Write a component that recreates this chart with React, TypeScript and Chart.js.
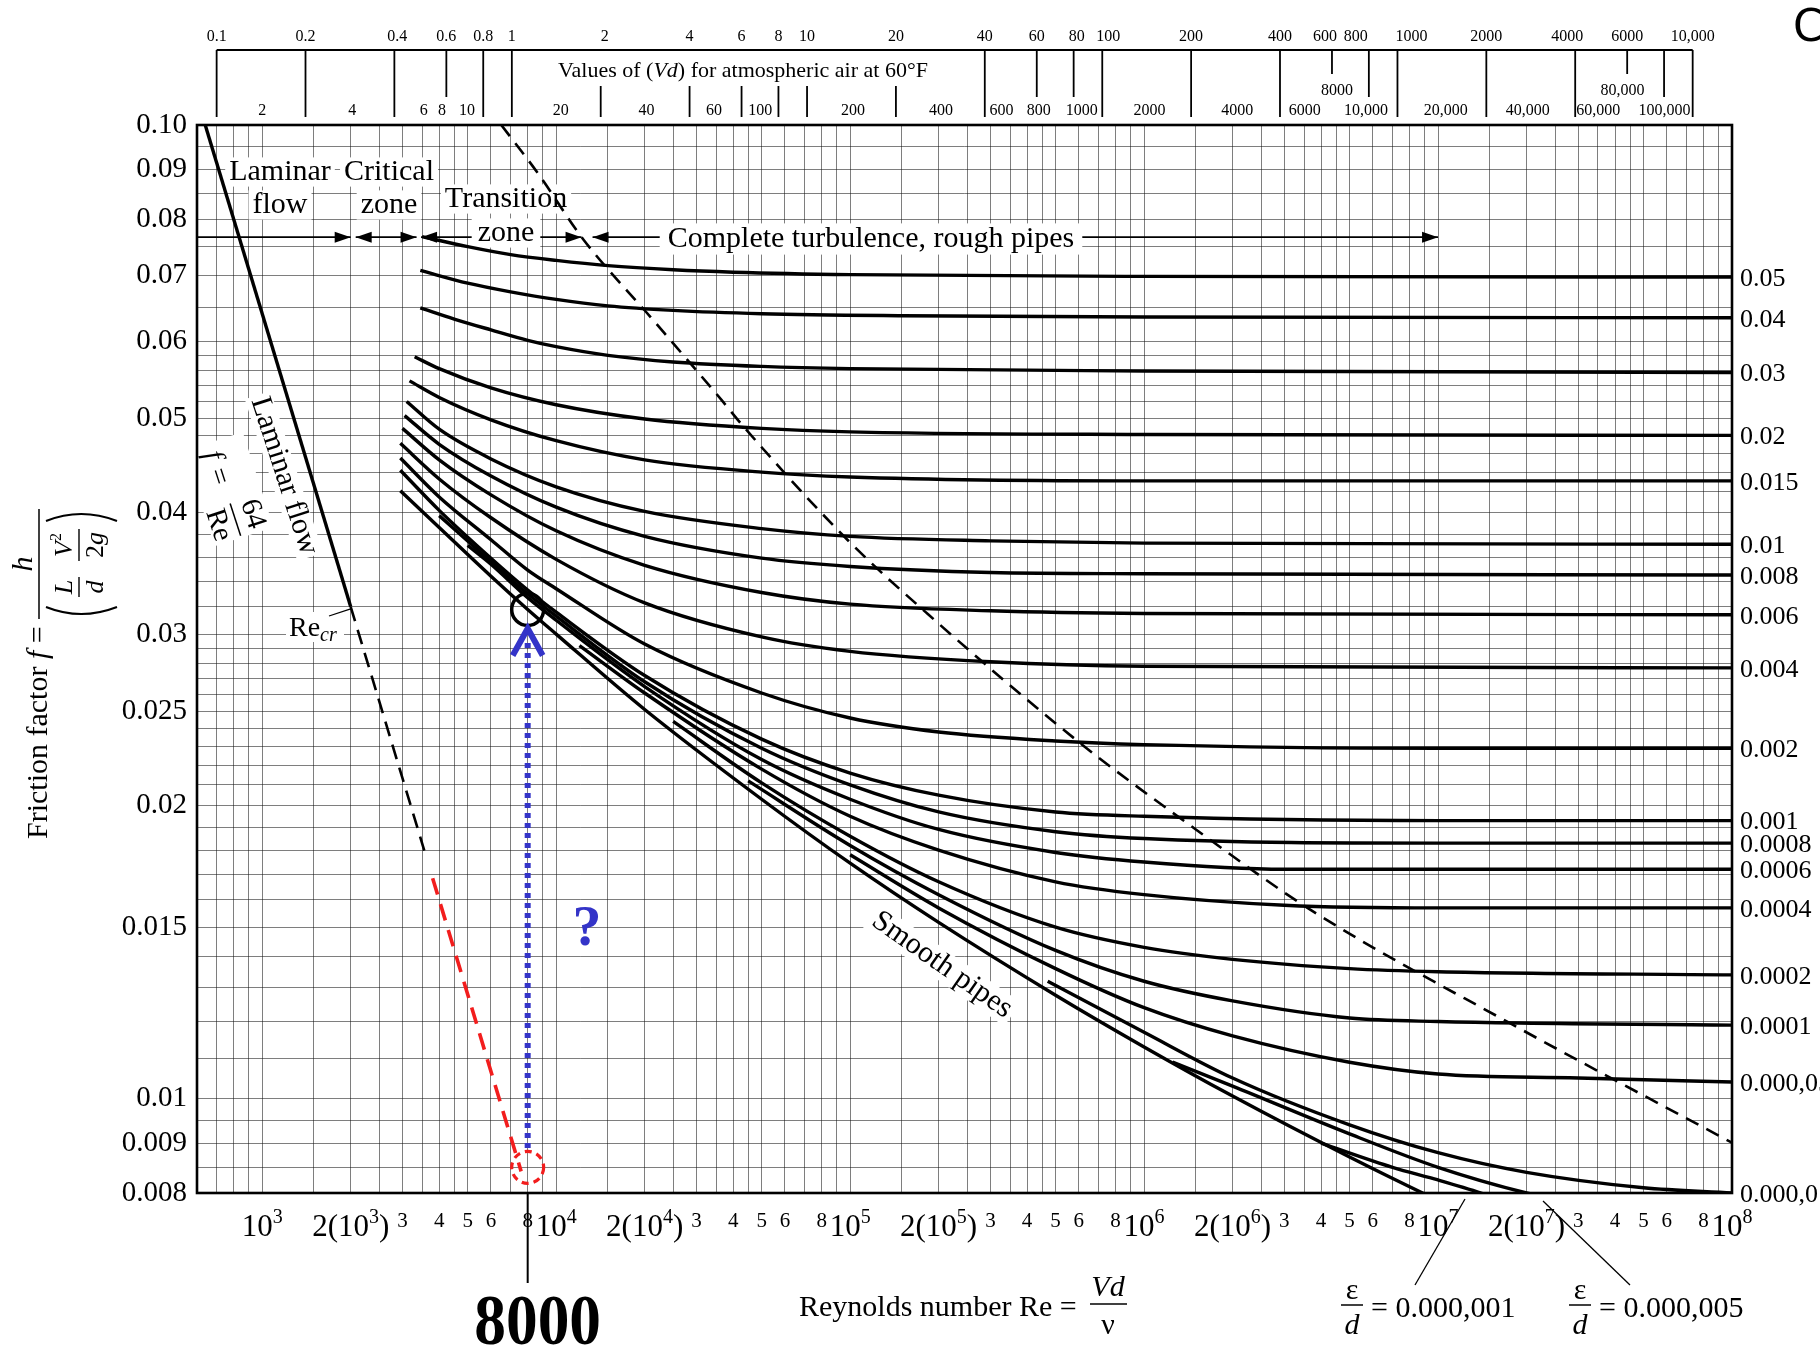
import React, { useEffect, useRef } from 'react';
import { Chart, registerables } from 'chart.js';

Chart.register(...registerables);

type P = [number, number];

const SERIF = '"Liberation Serif", "Times New Roman", "DejaVu Serif", serif';
const RED = '#f21d1d';
const BLUE = '#3434c8';

// ---------- axis ranges ----------
const RE_MIN = 600;
const RE_MAX = 1e8;
const F_MIN = 0.008;
const F_MAX = 0.1;
// Vd scales along the top (values at the plot's left / right edges)
const AIR_MIN = 0.0858;
const AIR_MAX = 13590;
const WATER_MIN = 1.208;
const WATER_MAX = 168500;

// ---------- curves: [Re, f] ----------
const ed_0_05: P[] = [[3500, 0.0768], [5000, 0.075], [7000, 0.0736], [10000, 0.0726], [15000, 0.0717], [25000, 0.071], [40000, 0.0706], [100000, 0.0702], [1e6, 0.0699], [1e8, 0.0698]];
const ed_0_04: P[] = [[3450, 0.0709], [5000, 0.0688], [7000, 0.0674], [10000, 0.0662], [15000, 0.0652], [25000, 0.0645], [50000, 0.064], [150000, 0.0637], [1e6, 0.0635], [1e8, 0.0634]];
const ed_0_03: P[] = [[3450, 0.0649], [4500, 0.0632], [6000, 0.0616], [8000, 0.0601], [10000, 0.0592], [15000, 0.058], [25000, 0.0571], [50000, 0.0565], [100000, 0.0562], [1e6, 0.0559], [1e8, 0.0557]];
const ed_0_02: P[] = [[3300, 0.0578], [4000, 0.0562], [6000, 0.0537], [10000, 0.0516], [20000, 0.0499], [50000, 0.0488], [100000, 0.0484], [1e6, 0.0481], [1e8, 0.048]];
const ed_0_015: P[] = [[3170, 0.0546], [4000, 0.0525], [6000, 0.0498], [10000, 0.0474], [20000, 0.0453], [50000, 0.044], [100000, 0.0435], [1e6, 0.0431], [1e8, 0.0431]];
const ed_0_01: P[] = [[3100, 0.052], [4000, 0.0487], [6000, 0.0454], [10000, 0.0425], [20000, 0.0401], [50000, 0.0385], [100000, 0.0378], [300000, 0.0374], [1e6, 0.0372], [1e8, 0.0371]];
const ed_0_008: P[] = [[3050, 0.0503], [4000, 0.047], [6000, 0.0436], [10000, 0.0405], [20000, 0.0378], [50000, 0.0359], [100000, 0.0352], [300000, 0.0347], [1e6, 0.0346], [1e8, 0.0345]];
const ed_0_006: P[] = [[3000, 0.0488], [4000, 0.0453], [6000, 0.0417], [10000, 0.0383], [20000, 0.0353], [50000, 0.0331], [100000, 0.0322], [300000, 0.0317], [1e6, 0.0315], [1e8, 0.0314]];
const ed_0_004: P[] = [[2950, 0.0471], [4000, 0.0433], [6000, 0.0395], [10000, 0.0358], [20000, 0.0323], [50000, 0.0298], [100000, 0.0288], [300000, 0.0281], [1e6, 0.0278], [1e8, 0.0277]];
const ed_0_002: P[] = [[2950, 0.0455], [4000, 0.0415], [6000, 0.0375], [8000, 0.0349], [10000, 0.0334], [20000, 0.0293], [50000, 0.0261], [100000, 0.0246], [200000, 0.0238], [500000, 0.0233], [1e6, 0.0231], [1e7, 0.0229], [1e8, 0.0229]];
const ed_0_001: P[] = [[2950, 0.0442], [4000, 0.0402], [6000, 0.0359], [8000, 0.0333], [10000, 0.0316], [20000, 0.0272], [50000, 0.0234], [100000, 0.0216], [200000, 0.0205], [500000, 0.0197], [1e6, 0.0195], [1e7, 0.0193], [1e8, 0.0193]];
const ed_0_0008: P[] = [[4000, 0.0397], [6000, 0.0356], [8000, 0.033], [10000, 0.0313], [20000, 0.0268], [50000, 0.0229], [100000, 0.021], [200000, 0.0197], [500000, 0.0188], [1e6, 0.0185], [1e7, 0.0183], [1e8, 0.0183]];
const ed_0_0006: P[] = [[5000, 0.037], [6000, 0.0354], [8000, 0.0327], [10000, 0.031], [20000, 0.0265], [50000, 0.0223], [100000, 0.0203], [200000, 0.0189], [500000, 0.0179], [1e6, 0.0175], [3e6, 0.0172], [1e7, 0.0172], [1e8, 0.0172]];
const ed_0_0004: P[] = [[12000, 0.0292], [20000, 0.0261], [50000, 0.0218], [100000, 0.0195], [200000, 0.018], [500000, 0.0167], [1e6, 0.0162], [3e6, 0.0158], [1e7, 0.0157], [1e8, 0.0157]];
const ed_0_0002: P[] = [[25000, 0.0244], [50000, 0.0211], [100000, 0.0186], [200000, 0.0167], [500000, 0.015], [1e6, 0.0143], [2e6, 0.0139], [5e6, 0.0136], [1e7, 0.0135], [1e8, 0.0134]];
const ed_0_0001: P[] = [[45000, 0.0212], [100000, 0.0182], [200000, 0.0162], [500000, 0.0142], [1e6, 0.0132], [2e6, 0.0126], [5e6, 0.0121], [1e7, 0.012], [1e8, 0.0119]];
const ed_0_00005: P[] = [[100000, 0.0178], [200000, 0.0157], [500000, 0.0136], [1e6, 0.0124], [2e6, 0.0116], [5e6, 0.0109], [1e7, 0.0106], [3e7, 0.0105], [1e8, 0.0104]];
const ed_0_00001: P[] = [[470000, 0.0132], [1e6, 0.0117], [2e6, 0.0105], [5e6, 0.0094], [1e7, 0.0088], [2e7, 0.0084], [5e7, 0.0081], [1e8, 0.008]];
const ed_0_000005: P[] = [[1250000, 0.0109], [2e6, 0.0103], [5e6, 0.0092], [1e7, 0.0085], [2e7, 0.008], [3e7, 0.0078]];
const ed_0_000001: P[] = [[4e6, 0.009], [7e6, 0.0085], [1e7, 0.00825], [1.4e7, 0.008], [2e7, 0.0077]];
const ed_smooth: P[] = [[2950, 0.0421], [4000, 0.0386], [6000, 0.0344], [8000, 0.0318], [10000, 0.03], [20000, 0.0251], [50000, 0.0203], [100000, 0.01745], [200000, 0.01517], [500000, 0.01277], [1e6, 0.0113], [2e6, 0.01006], [5e6, 0.00871], [1e7, 0.00786], [2e7, 0.00713]];

const laminarLine: P[] = [[640, 0.1], [2000, 0.032]];
const laminarDashed: P[] = [[2000, 0.032], [3560, 0.01798]];
const laminarRedDashed: P[] = [[3800, 0.01684], [7600, 0.00842]];
const completeTurbulenceBoundary: P[] = [[6505, 0.1], [8646, 0.0893], [12410, 0.0762], [20840, 0.0636], [36500, 0.0522], [43150, 0.0491], [97860, 0.0375], [185000, 0.0314], [604000, 0.0232], [1.5e6, 0.0189], [3.72e6, 0.0156], [1.75e7, 0.01196], [1e8, 0.00901]];

const blackCircleMarker: P = [8000, 0.0318];
const redCircleMarker: P = [8000, 0.0085];
const blueArrow: P[] = [[8000, 0.0089], [8000, 0.0304]];
const markedRe = 8000;

const roughCurves: { label: string; pts: P[] }[] = [
  { label: '0.05', pts: ed_0_05 },
  { label: '0.04', pts: ed_0_04 },
  { label: '0.03', pts: ed_0_03 },
  { label: '0.02', pts: ed_0_02 },
  { label: '0.015', pts: ed_0_015 },
  { label: '0.01', pts: ed_0_01 },
  { label: '0.008', pts: ed_0_008 },
  { label: '0.006', pts: ed_0_006 },
  { label: '0.004', pts: ed_0_004 },
  { label: '0.002', pts: ed_0_002 },
  { label: '0.001', pts: ed_0_001 },
  { label: '0.0008', pts: ed_0_0008 },
  { label: '0.0006', pts: ed_0_0006 },
  { label: '0.0004', pts: ed_0_0004 },
  { label: '0.0002', pts: ed_0_0002 },
  { label: '0.0001', pts: ed_0_0001 },
  { label: '0.000,05', pts: ed_0_00005 },
  { label: '0.000,01', pts: ed_0_00001 },
];
const unlabeledCurves: P[][] = [ed_0_000005, ed_0_000001, ed_smooth];

// ---------- grid & ticks ----------
const xGridMultipliers = [1, 1.5, 2, 2.5, 3, 3.5, 4, 4.5, 5, 6, 7, 8, 9];
const xGridBelow1000 = [600, 700, 800, 900];
const xGridExponents = [3, 4, 5, 6, 7];
const yGridValues = [0.008, 0.0085, 0.009, 0.0095, 0.01, 0.011, 0.012, 0.013, 0.014, 0.015, 0.016, 0.017, 0.018, 0.019, 0.02, 0.021, 0.022, 0.023, 0.024, 0.025, 0.026, 0.027, 0.028, 0.029, 0.03, 0.032, 0.034, 0.036, 0.038, 0.04, 0.042, 0.044, 0.046, 0.048, 0.05, 0.052, 0.054, 0.056, 0.058, 0.06, 0.065, 0.07, 0.075, 0.08, 0.085, 0.09, 0.095, 0.1];
const yTickLabels = [0.1, 0.09, 0.08, 0.07, 0.06, 0.05, 0.04, 0.03, 0.025, 0.02, 0.015, 0.01, 0.009, 0.008];

const reDecadeExponents = [3, 4, 5, 6, 7, 8];
const reDoubleExponents = [3, 4, 5, 6, 7];
const reMinorMultipliers = [3, 4, 5, 6, 8];

const airFullTicks = [0.1, 0.2, 0.4, 0.8, 1, 40, 100, 200, 400, 1000, 2000, 4000, 10000];
const airTopTicks = [0.6, 60, 80, 800, 8000];
const airShortTicks = [600, 6000];
const airBottomTicks = [2, 4, 6, 8, 10, 20];
const airLabels = [0.1, 0.2, 0.4, 0.6, 0.8, 1, 2, 4, 6, 8, 10, 20, 40, 60, 80, 100, 200, 400, 600, 800, 1000, 2000, 4000, 6000, 10000];
const waterLabels = [2, 4, 6, 8, 10, 20, 40, 60, 100, 200, 400, 600, 800, 1000, 2000, 4000, 6000, 10000, 20000, 40000, 60000, 100000];
const waterRaisedLabels = [8000, 80000];

// zone arrows: laminar end, critical start/end, transition start/end, turbulence start/end
const zoneArrowRe = [2000, 2080, 3350, 3470, 12200, 13300, 1e7];
const ZONE_ARROW_F = 0.0767;

// ---------- text layout nudges (px) for hand-set labels on the top strip ----------
const airLabelNudge: Record<string, number> = { '0.4': 3, '2': 4, '80': 3, '100': 6, '600': -7, '800': -13, '1000': 14, '4000': -8 };
const waterLabelNudge: Record<string, number> = { '6': 19, '10': -4, '40': -4, '60': 11, '100': -9, '200': -6, '400': -8, '1000': 14, '2000': -8, '4000': -10, '6000': 5, '20000': -10, '40000': -18, '80000': -13 };

// ---------- drawing helpers ----------
const fnt = (size: number, style = '') => `${style} ${size}px ${SERIF}`.trim();

function line(ctx: CanvasRenderingContext2D, x0: number, y0: number, x1: number, y1: number) {
  ctx.beginPath();
  ctx.moveTo(x0, y0);
  ctx.lineTo(x1, y1);
  ctx.stroke();
}

function head(ctx: CanvasRenderingContext2D, x: number, y: number, dir: number) {
  ctx.beginPath();
  ctx.moveTo(x, y);
  ctx.lineTo(x - dir * 16, y - 5.5);
  ctx.lineTo(x - dir * 16, y + 5.5);
  ctx.closePath();
  ctx.fill();
}

function boxed(ctx: CanvasRenderingContext2D, s: string, cx: number, cy: number, size: number, style = '', padX = 4, padY = 2) {
  ctx.font = fnt(size, style);
  const w = ctx.measureText(s).width;
  ctx.fillStyle = '#fff';
  ctx.fillRect(cx - w / 2 - padX, cy - size * 0.42 - padY, w + 2 * padX, size * 0.84 + 2 * padY);
  ctx.fillStyle = '#000';
  ctx.textAlign = 'center';
  ctx.textBaseline = 'middle';
  ctx.fillText(s, cx, cy);
}

type Run = { t: string; size: number; style?: string; dy?: number };
function drawRuns(ctx: CanvasRenderingContext2D, runs: Run[], x: number, y: number, align: 'left' | 'center' = 'left') {
  let w = 0;
  for (const r of runs) {
    ctx.font = fnt(r.size, r.style || '');
    w += ctx.measureText(r.t).width;
  }
  let cx = align === 'center' ? x - w / 2 : x;
  ctx.textAlign = 'left';
  ctx.textBaseline = 'alphabetic';
  for (const r of runs) {
    ctx.font = fnt(r.size, r.style || '');
    ctx.fillText(r.t, cx, y + (r.dy || 0));
    cx += ctx.measureText(r.t).width;
  }
}

function powLabel(ctx: CanvasRenderingContext2D, cx: number, baseY: number, pre: string, exp: string, post: string) {
  drawRuns(ctx, [
    { t: pre + '10', size: 31 },
    { t: exp, size: 20, dy: -13 },
    { t: post, size: 31 },
  ], cx, baseY, 'center');
}

const fmtVd = (v: number) => (v >= 10000 ? v.toLocaleString('en-US') : String(v));

const moodyPlugin = {
  id: 'moody',
  beforeDraw(chart: any) {
    const ctx = chart.ctx as CanvasRenderingContext2D;
    ctx.save();
    ctx.fillStyle = '#fff';
    ctx.fillRect(0, 0, chart.width, chart.height);
    ctx.restore();
  },
  beforeDatasetsDraw(chart: any) {
    const ctx = chart.ctx as CanvasRenderingContext2D;
    const ca = chart.chartArea;
    const xs = chart.scales.x;
    const ys = chart.scales.y;
    const X = (v: number) => xs.getPixelForValue(v);
    ctx.save();
    ctx.strokeStyle = '#000';
    ctx.fillStyle = '#000';
    ctx.lineWidth = 1.6;
    const ay = ys.getPixelForValue(ZONE_ARROW_F);
    const [lamEnd, critStart, critEnd, trStart, trEnd, tuStart, tuEnd] = zoneArrowRe.map(X);
    line(ctx, ca.left, ay, lamEnd, ay); head(ctx, lamEnd, ay, 1);
    line(ctx, critStart, ay, critEnd, ay); head(ctx, critStart, ay, -1); head(ctx, critEnd, ay, 1);
    line(ctx, trStart, ay, trEnd, ay); head(ctx, trStart, ay, -1); head(ctx, trEnd, ay, 1);
    line(ctx, tuStart, ay, tuEnd, ay); head(ctx, tuStart, ay, -1); head(ctx, tuEnd, ay, 1);

    boxed(ctx, 'Laminar', 280, 172, 30);
    boxed(ctx, 'flow', 280, 205, 30);
    boxed(ctx, 'Critical', 389, 172, 30);
    boxed(ctx, 'zone', 389, 205, 30);
    boxed(ctx, 'Transition', 506, 199, 30);
    boxed(ctx, 'zone', 506, 233, 30, '', 6, 2);
    boxed(ctx, 'Complete turbulence, rough pipes', 871, 239, 30, '', 8, 3);

    // f = 64/Re (rotated along laminar line)
    ctx.save();
    ctx.translate(229, 487);
    ctx.rotate((72 * Math.PI) / 180);
    ctx.fillStyle = '#fff';
    ctx.fillRect(-48, -30, 100, 62);
    ctx.fillStyle = '#000';
    ctx.textAlign = 'center';
    ctx.textBaseline = 'middle';
    ctx.font = fnt(29, 'italic');
    ctx.fillText('f', -35, 6);
    ctx.font = fnt(29);
    ctx.fillText('=', -13, 7);
    ctx.fillText('64', 33, -14);
    ctx.fillText('Re', 33, 22);
    ctx.lineWidth = 1.5;
    line(ctx, 16, 4, 50, 4);
    ctx.restore();

    // Laminar flow rotated
    ctx.save();
    ctx.translate(284, 476);
    ctx.rotate((72 * Math.PI) / 180);
    boxed(ctx, 'Laminar flow', 0, 0, 30, '', 3, 1);
    ctx.restore();

    // Smooth pipes rotated
    ctx.save();
    ctx.translate(942, 965);
    ctx.rotate((35 * Math.PI) / 180);
    boxed(ctx, 'Smooth pipes', 0, 0, 30, '', 4, 2);
    ctx.restore();

    // Re_cr
    ctx.fillStyle = '#fff';
    ctx.fillRect(286, 612, 58, 30);
    ctx.fillStyle = '#000';
    drawRuns(ctx, [{ t: 'Re', size: 28 }, { t: 'cr', size: 20, style: 'italic', dy: 5 }], 289, 636);
    ctx.lineWidth = 1.3;
    line(ctx, 329, 616, X(laminarLine[1][0]), ys.getPixelForValue(laminarLine[1][1]) + 2);
    ctx.restore();
  },
  afterDatasetsDraw(chart: any) {
    const ctx = chart.ctx as CanvasRenderingContext2D;
    const ca = chart.chartArea;
    const xs = chart.scales.x;
    const ys = chart.scales.y;
    const air = chart.scales.xAir;
    const water = chart.scales.xWater;
    const X = (v: number) => xs.getPixelForValue(v);
    const Y = (v: number) => ys.getPixelForValue(v);
    ctx.save();

    // frame
    ctx.strokeStyle = '#000';
    ctx.lineWidth = 2.6;
    ctx.strokeRect(ca.left, ca.top, ca.right - ca.left, ca.bottom - ca.top);

    // red dashed circle
    ctx.strokeStyle = RED;
    ctx.lineWidth = 3.2;
    ctx.setLineDash([7, 5]);
    ctx.beginPath();
    ctx.arc(X(redCircleMarker[0]), Y(redCircleMarker[1]), 16, 0, Math.PI * 2);
    ctx.stroke();

    // blue dotted arrow
    const bx = X(blueArrow[0][0]);
    const by0 = Y(blueArrow[0][1]);
    const by1 = Y(blueArrow[1][1]);
    ctx.strokeStyle = BLUE;
    ctx.lineWidth = 6;
    ctx.setLineDash([5, 5]);
    line(ctx, bx, by0, bx, by1 + 14);
    ctx.setLineDash([]);
    ctx.lineJoin = 'miter';
    ctx.beginPath();
    ctx.moveTo(bx - 15, by1 + 27);
    ctx.lineTo(bx, by1);
    ctx.lineTo(bx + 15, by1 + 27);
    ctx.stroke();

    // '?'
    ctx.fillStyle = BLUE;
    ctx.font = fnt(58, 'bold');
    ctx.textAlign = 'center';
    ctx.textBaseline = 'alphabetic';
    ctx.fillText('?', 587, 945);

    // 8000 pointer and label
    ctx.strokeStyle = '#000';
    ctx.lineWidth = 2;
    const x8 = X(markedRe);
    line(ctx, x8, ca.bottom, x8, 1283);
    ctx.fillStyle = '#000';
    ctx.save();
    ctx.translate(x8 + 10, 1344);
    ctx.scale(0.88, 1);
    ctx.font = fnt(72, 'bold');
    ctx.textAlign = 'center';
    ctx.fillText(String(markedRe), 0, 0);
    ctx.restore();

    // right-side roughness labels
    ctx.fillStyle = '#000';
    ctx.font = fnt(26);
    ctx.textAlign = 'left';
    ctx.textBaseline = 'middle';
    for (const c of roughCurves) {
      const last = c.pts[c.pts.length - 1];
      ctx.fillText(c.label, ca.right + 8, Y(last[1]) + 2);
    }

    // bottom Re labels
    for (const e of reDecadeExponents) powLabel(ctx, X(10 ** e), 1236, '', String(e), '');
    for (const e of reDoubleExponents) powLabel(ctx, X(2 * 10 ** e), 1236, '2(', String(e), ')');
    ctx.font = fnt(21);
    ctx.textAlign = 'center';
    ctx.textBaseline = 'alphabetic';
    for (const e of reDoubleExponents) {
      for (const m of reMinorMultipliers) ctx.fillText(String(m), X(m * 10 ** e), 1227);
    }

    // Reynolds number caption
    drawRuns(ctx, [{ t: 'Reynolds number Re = ', size: 30 }], 799, 1316);
    ctx.textAlign = 'center';
    ctx.textBaseline = 'alphabetic';
    ctx.font = fnt(30, 'italic');
    ctx.fillText('Vd', 1108, 1296);
    ctx.font = fnt(30);
    ctx.fillText('ν', 1108, 1334);
    ctx.lineWidth = 1.5;
    line(ctx, 1090, 1304, 1127, 1304);

    // eps/d captions
    const epsCaption = (cx: number, rest: string) => {
      ctx.textAlign = 'center';
      ctx.font = fnt(30);
      ctx.fillText('ε', cx, 1299);
      ctx.lineWidth = 1.5;
      line(ctx, cx - 11, 1305, cx + 11, 1305);
      ctx.font = fnt(30, 'italic');
      ctx.fillText('d', cx, 1334);
      ctx.textAlign = 'left';
      ctx.font = fnt(30);
      ctx.fillText(rest, cx + 19, 1317);
    };
    epsCaption(1352, '= 0.000,001');
    epsCaption(1580, '= 0.000,005');
    ctx.lineWidth = 1.3;
    line(ctx, 1465, 1199, 1415, 1285);
    line(ctx, 1543, 1201, 1630, 1285);

    // y-axis title (rotated)
    ctx.save();
    ctx.translate(47, 839);
    ctx.rotate(-Math.PI / 2);
    ctx.fillStyle = '#000';
    ctx.strokeStyle = '#000';
    drawRuns(ctx, [{ t: 'Friction factor ', size: 30 }, { t: 'f', size: 30, style: 'italic' }, { t: ' =', size: 30 }], 0, 0);
    const u0 = 220;
    const u1 = 330;
    ctx.lineWidth = 1.5;
    line(ctx, u0, -8, u1, -8);
    ctx.textAlign = 'center';
    ctx.textBaseline = 'alphabetic';
    ctx.font = fnt(30, 'italic');
    ctx.fillText('h', (u0 + u1) / 2, -15);
    ctx.lineWidth = 2;
    ctx.beginPath();
    ctx.moveTo(u0 + 12, -1);
    ctx.quadraticCurveTo(u0 - 2, 34, u0 + 12, 70);
    ctx.stroke();
    ctx.beginPath();
    ctx.moveTo(u1 - 12, -1);
    ctx.quadraticCurveTo(u1 + 2, 34, u1 - 12, 70);
    ctx.stroke();
    ctx.font = fnt(26, 'italic');
    ctx.fillText('L', u0 + 32, 25);
    ctx.fillText('d', u0 + 32, 56);
    ctx.lineWidth = 1.4;
    line(ctx, u0 + 22, 32, u0 + 42, 32);
    drawRuns(ctx, [{ t: 'V', size: 26, style: 'italic' }, { t: '2', size: 16, dy: -11 }], u0 + 74, 25, 'center');
    drawRuns(ctx, [{ t: '2', size: 26 }, { t: 'g', size: 26, style: 'italic' }], u0 + 74, 56, 'center');
    line(ctx, u0 + 58, 32, u0 + 90, 32);
    ctx.restore();

    // top Vd scale
    const A = (v: number) => air.getPixelForValue(v);
    const Wv = (v: number) => water.getPixelForValue(v);
    ctx.strokeStyle = '#000';
    ctx.lineWidth = 2;
    line(ctx, A(airFullTicks[0]), 50, A(airFullTicks[airFullTicks.length - 1]), 50);
    ctx.lineWidth = 1.8;
    for (const v of airFullTicks) line(ctx, A(v), 50, A(v), 117);
    for (const v of airTopTicks) line(ctx, A(v), 50, A(v), 97);
    for (const v of airShortTicks) line(ctx, A(v), 50, A(v), 74);
    for (const v of airBottomTicks) line(ctx, A(v), 86, A(v), 117);
    ctx.fillStyle = '#000';
    ctx.font = fnt(16);
    ctx.textAlign = 'center';
    ctx.textBaseline = 'alphabetic';
    for (const v of airLabels) ctx.fillText(fmtVd(v), A(v) + (airLabelNudge[String(v)] || 0), 41);
    for (const v of waterLabels) ctx.fillText(fmtVd(v), Wv(v) + (waterLabelNudge[String(v)] || 0), 115);
    for (const v of waterRaisedLabels) ctx.fillText(fmtVd(v), Wv(v) + (waterLabelNudge[String(v)] || 0), 95);
    drawRuns(ctx, [
      { t: 'Values of (', size: 22 },
      { t: 'Vd', size: 22, style: 'italic' },
      { t: ') for atmospheric air at 60°F', size: 22 },
    ], 743, 77, 'center');

    // clipped glyph at top-right corner
    ctx.font = '44px "DejaVu Sans", sans-serif';
    ctx.textAlign = 'left';
    ctx.fillText('C', 1793, 41);

    ctx.restore();
  },
};

export default function App() {
  const ref = useRef<HTMLCanvasElement>(null);
  useEffect(() => {
    document.body.style.margin = '0';
    const canvas = ref.current;
    if (!canvas) return;

    const xGridValues: number[] = [...xGridBelow1000];
    for (const e of xGridExponents) for (const m of xGridMultipliers) xGridValues.push(m * 10 ** e);
    xGridValues.push(RE_MAX);

    const curveStyle = {
      borderColor: '#000',
      borderWidth: 3.4,
      pointRadius: 0,
      fill: false,
      cubicInterpolationMode: 'monotone',
      xAxisID: 'x',
      yAxisID: 'y',
    };
    const toXY = (pts: P[]) => pts.map(([x, y]) => ({ x, y }));

    const datasets: any[] = [
      ...roughCurves.map((c) => ({ ...curveStyle, label: c.label, data: toXY(c.pts) })),
      ...unlabeledCurves.map((pts, i) => ({ ...curveStyle, label: 'u' + i, data: toXY(pts) })),
      { ...curveStyle, label: 'laminar', data: toXY(laminarLine), borderWidth: 3.4, cubicInterpolationMode: 'default', tension: 0 },
      { ...curveStyle, label: 'laminar-ext', data: toXY(laminarDashed), borderWidth: 2.6, borderDash: [15, 9], cubicInterpolationMode: 'default', tension: 0 },
      { ...curveStyle, label: 'laminar-red', data: toXY(laminarRedDashed), borderColor: RED, borderWidth: 3.6, borderDash: [17, 10], cubicInterpolationMode: 'default', tension: 0 },
      { ...curveStyle, label: 'boundary', data: toXY(completeTurbulenceBoundary), borderWidth: 2.6, borderDash: [14, 9] },
      {
        label: 'circle',
        data: [{ x: blackCircleMarker[0], y: blackCircleMarker[1] }],
        showLine: false,
        pointRadius: 16,
        pointBorderWidth: 3.5,
        pointBorderColor: '#000',
        pointBackgroundColor: 'rgba(0,0,0,0)',
        xAxisID: 'x',
        yAxisID: 'y',
      },
    ];

    const gridColor = 'rgba(20,20,20,0.55)';

    const chart = new Chart(canvas, {
      type: 'line',
      data: { datasets },
      options: {
        responsive: false,
        animation: false,
        devicePixelRatio: 1,
        events: [],
        elements: { line: { capBezierPoints: false } },
        layout: { padding: { left: 0, right: 88, top: 125, bottom: 0 } },
        plugins: { legend: { display: false }, tooltip: { enabled: false } },
        scales: {
          x: {
            type: 'logarithmic',
            min: RE_MIN,
            max: RE_MAX,
            afterBuildTicks: (s: any) => { s.ticks = xGridValues.map((v) => ({ value: v })); },
            afterFit: (s: any) => { s.height = 154; },
            ticks: { display: false, autoSkip: false },
            grid: { color: gridColor, lineWidth: 1, drawTicks: false },
            border: { display: false },
          },
          y: {
            type: 'logarithmic',
            min: F_MIN,
            max: F_MAX,
            afterBuildTicks: (s: any) => { s.ticks = yGridValues.map((v) => ({ value: v })); },
            afterFit: (s: any) => { s.width = 197; },
            ticks: {
              autoSkip: false,
              padding: 10,
              color: '#000',
              font: { family: SERIF, size: 29 },
              callback: (value: any) => {
                const v = Number(value);
                const lab = yTickLabels.find((l) => Math.abs(l - v) < 1e-9);
                if (lab === undefined) return '';
                return lab === 0.1 ? '0.10' : String(lab);
              },
            },
            grid: { color: gridColor, lineWidth: 1, drawTicks: false },
            border: { display: false },
          },
          xAir: { type: 'logarithmic', display: false, min: AIR_MIN, max: AIR_MAX },
          xWater: { type: 'logarithmic', display: false, min: WATER_MIN, max: WATER_MAX },
        },
      } as any,
      plugins: [moodyPlugin as any],
    });
    return () => chart.destroy();
  }, []);

  return <canvas ref={ref} width={1820} height={1347} style={{ display: 'block', width: 1820, height: 1347 }} />;
}
